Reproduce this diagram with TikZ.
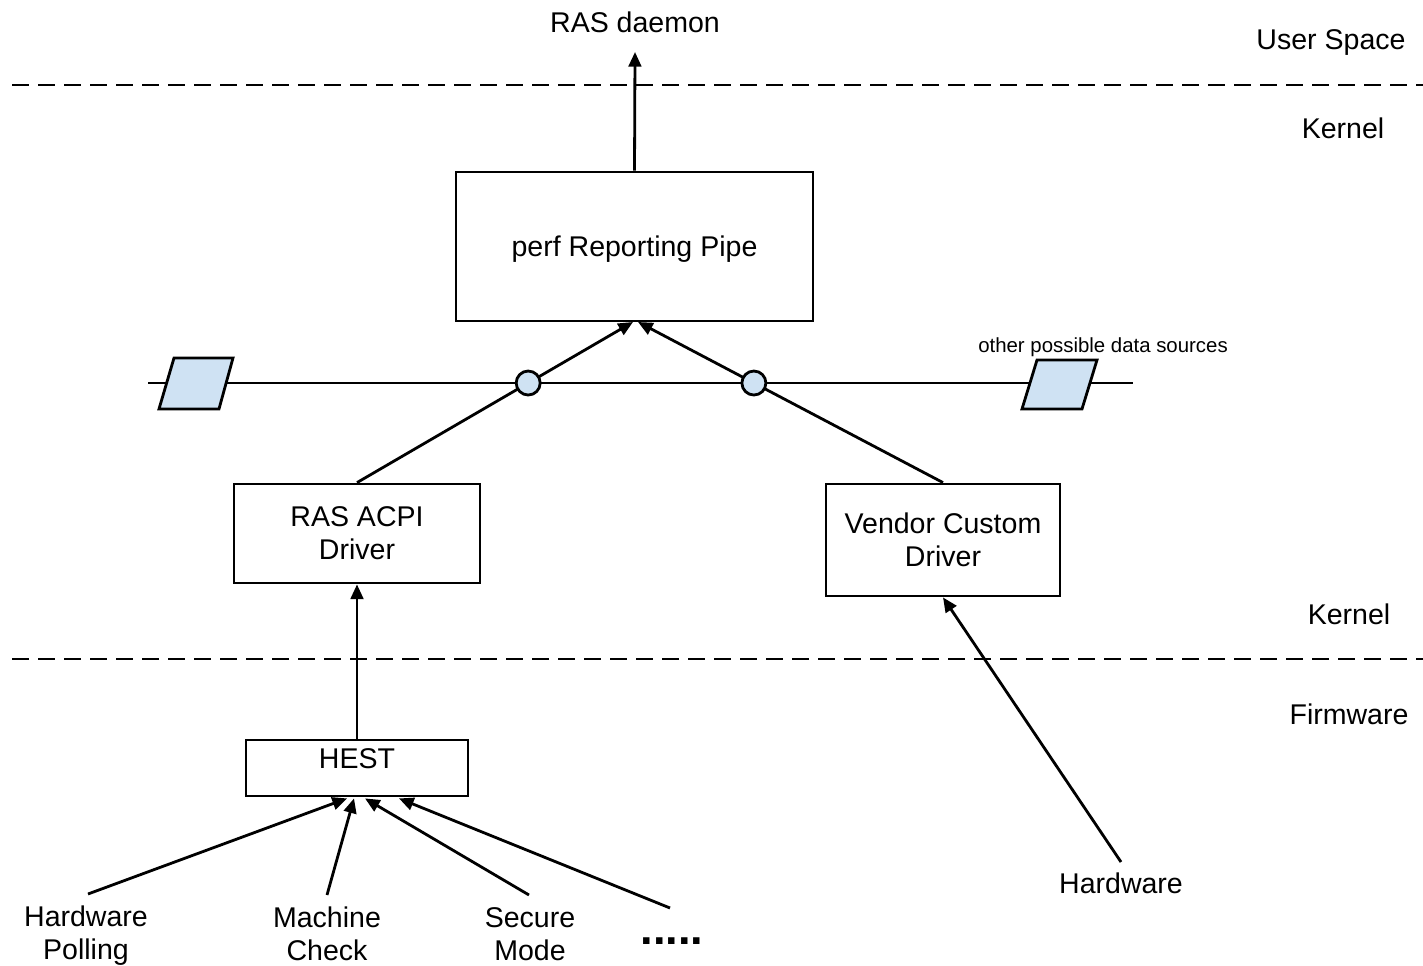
\documentclass[tikz,border=0pt]{standalone}
\usepackage{fontspec}
\setmainfont{Liberation Sans}
\usetikzlibrary{arrows.meta,calc}
\definecolor{lblue}{HTML}{CFE2F3}
\newcommand\bigf{\fontsize{21.4}{24.8}\selectfont}
\newcommand\smallf{\fontsize{15.3}{18}\selectfont}
\begin{document}
\begin{tikzpicture}[x=0.75pt,y=-0.75pt,
  lw/.style={line width=2.1pt},
  box/.style={draw,lw,inner sep=0pt,align=center,font=\bigf},
  lbl/.style={align=center,font=\bigf,inner sep=0pt},
  arr/.style={lw,-{Triangle[length=11pt,width=9.5pt]}},
  sep/.style={lw,dash pattern=on 12.5pt off 7pt},
  src/.style={draw,lw,fill=lblue}
]
\useasboundingbox (0,0) rectangle (1423,966);

% layer separators
\draw[sep] (12,85) -- (1423,85);
\draw[sep] (12,659) -- (1423,659);

% layer labels
\node[lbl] (us) at (1331,43) {User Space};
\node[lbl] (k1) at (1343,128) {Kernel};
\node[lbl] (k2) at (1349,614) {Kernel};
\node[lbl] (fw) at (1349,714) {Firmware};

% nodes
\node[lbl] (daemon) at (635,22) {RAS daemon};
\coordinate (daemonIn) at (635,52);
\node[box,text depth=0pt,minimum width=357*0.75pt,minimum height=149*0.75pt] (perf) at (634.5,246.5) {perf Reporting Pipe};
\node[box,minimum width=246*0.75pt,minimum height=99*0.75pt] (acpi) at (357,533.5) {RAS ACPI\\Driver};
\node[box,minimum width=234*0.75pt,minimum height=112*0.75pt] (vendor) at (943,540) {Vendor Custom\\Driver};
\node[box,minimum width=222*0.75pt,minimum height=56*0.75pt] (hest) at (357,768) {};
\node[lbl] (hestt) at (357,759) {HEST};

\node[lbl] (hp) at (86,936) {Hardware\\Polling};
\node[lbl] (mc) at (327,934) {Machine\\Check};
\node[lbl] (sm) at (530,934) {Secure\\Mode};
\node[inner sep=0pt,font=\fontsize{34}{36}\selectfont\bfseries] (dots) at (672,941) {.....};
\coordinate (dotsOut) at (670,908);
\node[lbl] (hw) at (1121,883) {Hardware};
\coordinate (hwOut) at (1121,862);
\coordinate (hpOut) at (88,894);
\coordinate (mcOut) at (327,895);
\coordinate (smOut) at (529,895);

% data source bus
\coordinate (hl1) at (148,383);
\coordinate (hl2) at (1133,383);
\coordinate (tipL) at (633,322);
\coordinate (tipR) at (638,322);
\draw[lw] (hl1) -- (hl2);
\draw[src] (159,409) -- (174,358) -- (233,358) -- (219,409) -- cycle;
\draw[src] (1022,409) -- (1037,360) -- (1097,360) -- (1082,409) -- cycle;
\node[font=\smallf,inner sep=0pt] (other) at (1103,347) {other possible data sources};

% connectors
\draw[arr] (perf.north) -- (daemonIn);
\draw[arr] (acpi.north) -- (tipL);
\draw[arr] (vendor.north) -- (tipR);
\node[circle,draw,lw,fill=lblue,minimum size=24*0.75pt,inner sep=0pt] (c1) at (intersection of acpi.north--tipL and hl1--hl2) {};
\node[circle,draw,lw,fill=lblue,minimum size=24*0.75pt,inner sep=0pt] (c2) at (intersection of vendor.north--tipR and hl1--hl2) {};
\draw[arr] (hest.north) -- (acpi.south);
\draw[arr] (hwOut) -- (vendor.south);
\draw[arr] (hpOut) -- ($(hest.south)+(-10,1)$);
\draw[arr] (mcOut) -- ($(hest.south)+(-3,1)$);
\draw[arr] (smOut) -- ($(hest.south)+(8,1)$);
\draw[arr] (dotsOut) -- ($(hest.south)+(42,1)$);
\end{tikzpicture}
\end{document}
